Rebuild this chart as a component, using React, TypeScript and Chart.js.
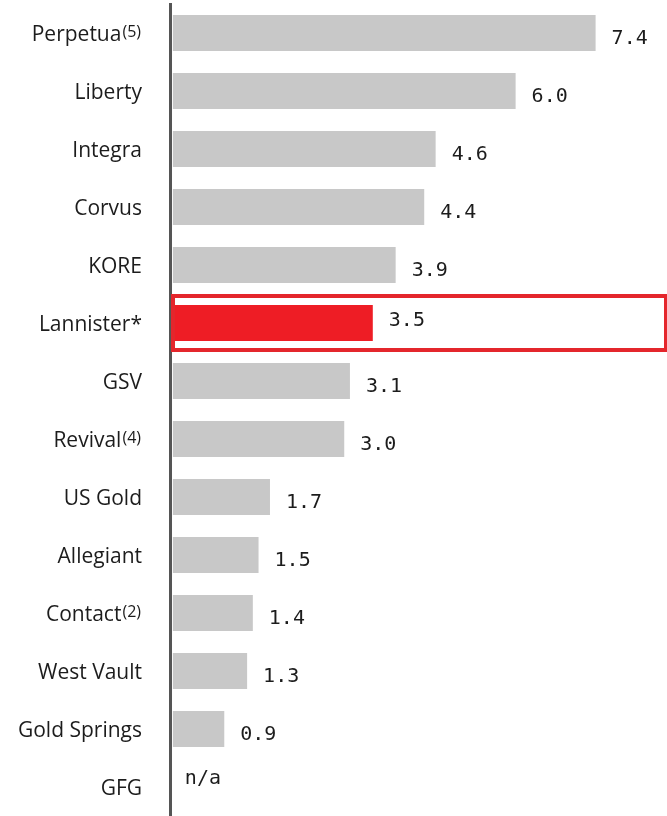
import React, { useEffect, useRef } from 'react';
import { Chart, registerables } from 'chart.js';

Chart.register(...registerables);

const categories = ['Perpetua', 'Liberty', 'Integra', 'Corvus', 'KORE', 'Lannister*', 'GSV', 'Revival', 'US Gold', 'Allegiant', 'Contact', 'West Vault', 'Gold Springs', 'GFG'];
const superscripts = ['(5)', '', '', '', '', '', '', '(4)', '', '', '(2)', '', '', ''];
const values: (number | null)[] = [7.4, 6.0, 4.6, 4.4, 3.9, 3.5, 3.1, 3.0, 1.7, 1.5, 1.4, 1.3, 0.9, null];
const valueLabels = ['7.4', '6.0', '4.6', '4.4', '3.9', '3.5', '3.1', '3.0', '1.7', '1.5', '1.4', '1.3', '0.9', 'n/a'];
const highlightCategory = 'Lannister*';

const GREY = '#c8c8c8';
const RED = '#ee1d25';
const BOX_RED = '#e4262c';
const TEXT = '#1c1c1c';
const LABEL_FONT = '"Open Sans", "Noto Sans", sans-serif';
const MONO_FONT = '"DejaVu Sans Mono", monospace';

export default function App() {
  const ref = useRef<HTMLCanvasElement>(null);

  useEffect(() => {
    const canvas = ref.current;
    if (!canvas) return;
    const hi = categories.indexOf(highlightCategory);

    const decor = {
      id: 'decor',
      afterDatasetsDraw(chart: any) {
        const { ctx, chartArea, scales } = chart;
        const ys = scales.y;
        const xs = scales.x;
        const half = (ys.getPixelForValue(1) - ys.getPixelForValue(0)) / 2;
        ctx.save();
        // highlight box
        if (hi >= 0) {
          const c = ys.getPixelForValue(hi);
          ctx.strokeStyle = BOX_RED;
          ctx.lineWidth = 4;
          ctx.strokeRect(chartArea.left + 3, c - half + 2, chartArea.right - chartArea.left - 4, 2 * half - 4);
        }
        // category labels with superscripts
        const labelRight = chartArea.left - 28;
        categories.forEach((cat, i) => {
          const c = ys.getPixelForValue(i);
          const sup = superscripts[i];
          ctx.fillStyle = TEXT;
          ctx.textBaseline = 'alphabetic';
          let supW = 0;
          if (sup) {
            ctx.font = `16px ${LABEL_FONT}`;
            supW = ctx.measureText(sup).width + 2;
            ctx.textAlign = 'left';
            ctx.fillText(sup, labelRight - supW + 1, c + 4);
          }
          ctx.font = `21px ${LABEL_FONT}`;
          ctx.textAlign = 'right';
          ctx.fillText(cat, labelRight - supW, c + 8);
        });
        // value labels
        ctx.font = `20px ${MONO_FONT}`;
        ctx.textAlign = 'left';
        ctx.textBaseline = 'middle';
        ctx.fillStyle = TEXT;
        valueLabels.forEach((lab, i) => {
          const c = ys.getPixelForValue(i);
          const v = values[i];
          if (v === null) {
            ctx.fillText(lab, xs.getPixelForValue(0) + 12, c - 8);
          } else {
            const off = i === hi ? -2 : 6;
            ctx.fillText(lab, xs.getPixelForValue(v) + 16, c + off);
          }
        });
        ctx.restore();
      },
    };

    const chart = new Chart(canvas, {
      type: 'bar',
      data: {
        labels: categories,
        datasets: [
          {
            data: values as any,
            backgroundColor: categories.map((c) => (c === highlightCategory ? RED : GREY)),
            barPercentage: 0.62,
            categoryPercentage: 1,
          },
        ],
      },
      options: {
        indexAxis: 'y',
        responsive: false,
        animation: false,
        layout: { padding: { top: 4, bottom: 0, left: 0, right: 0 } },
        plugins: { legend: { display: false }, tooltip: { enabled: false } },
        scales: {
          x: { display: false, min: -0.05, max: 8.65 },
          y: {
            grid: { display: false },
            border: { display: true, color: '#555555', width: 3 },
            ticks: { display: false },
            afterFit: (s: any) => {
              s.width = 170;
            },
          },
        },
      },
      plugins: [decor],
    } as any);

    return () => chart.destroy();
  }, []);

  return (
    <div style={{ position: 'fixed', left: 0, top: 0, width: 667, height: 816, background: '#ffffff' }}>
      <canvas ref={ref} width={667} height={816} style={{ display: 'block' }} />
    </div>
  );
}
